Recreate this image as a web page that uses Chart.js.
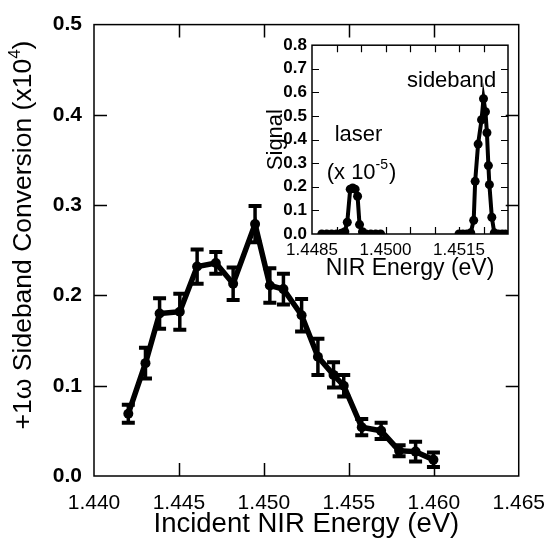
<!DOCTYPE html>
<html><head><meta charset="utf-8">
<script src="https://cdn.jsdelivr.net/npm/chart.js@4.4.1/dist/chart.umd.min.js"></script>
<style>
html,body{margin:0;padding:0;background:#fff;}
#wrap{position:relative;width:560px;height:541px;background:#fff;}
#main{position:absolute;left:0;top:0;}
#inset{position:absolute;left:262px;top:30px;}
</style></head>
<body><div id="wrap"><canvas id="main" width="560" height="541"></canvas><canvas id="inset" width="260" height="262"></canvas></div>
<script>
// ---- main chart data ----
const energy = [1.44202, 1.44303, 1.44386, 1.44505, 1.44607, 1.44717, 1.44819, 1.44948, 1.45035, 1.45115, 1.45222, 1.45318, 1.45410, 1.45470, 1.45576, 1.45690, 1.45796, 1.45893, 1.45998];
const conversion = [0.069, 0.125, 0.180, 0.182, 0.232, 0.236, 0.213, 0.279, 0.211, 0.207, 0.178, 0.132, 0.112, 0.100, 0.054, 0.050, 0.028, 0.027, 0.018];
const conversionErr = [0.010, 0.017, 0.017, 0.020, 0.019, 0.012, 0.018, 0.020, 0.019, 0.017, 0.018, 0.020, 0.014, 0.012, 0.009, 0.009, 0.006, 0.011, 0.008];
const mainXTicks = [1.440, 1.445, 1.450, 1.455, 1.460, 1.465];
const mainXTickLabels = ['1.440', '1.445', '1.450', '1.455', '1.460', '1.465'];
const mainYTicks = [0.0, 0.1, 0.2, 0.3, 0.4, 0.5];
const mainYTickLabels = ['0.0', '0.1', '0.2', '0.3', '0.4', '0.5'];

// ---- inset data ----
const laserEnergy = [1.44870, 1.44880, 1.44890, 1.44900, 1.44910, 1.44917, 1.44922, 1.44928, 1.44933, 1.44938, 1.44943, 1.44947, 1.44953, 1.44960, 1.44970, 1.44980, 1.44990];
const laserSignal = [0, 0, 0, 0, 0.003, 0.01, 0.05, 0.19, 0.195, 0.19, 0.16, 0.04, 0.01, 0, 0, 0, 0];
const sidebandEnergy = [1.45150, 1.45158, 1.45166, 1.45174, 1.45180, 1.45183, 1.45189, 1.45196, 1.45200, 1.45204, 1.45207, 1.45210, 1.45212, 1.45217, 1.45222, 1.45230, 1.45238, 1.45245];
const sidebandSignal = [0, 0, 0, 0.005, 0.058, 0.223, 0.381, 0.484, 0.573, 0.518, 0.429, 0.29, 0.209, 0.071, 0.005, 0, 0, 0];
const insetXTicks = [1.4485, 1.4490, 1.4495, 1.4500, 1.4505, 1.4510, 1.4515, 1.4520, 1.4525];
const insetXTickLabels = ['1.4485', '', '', '1.4500', '', '', '1.4515', '', ''];
const insetYTicks = [0, 0.1, 0.2, 0.3, 0.4, 0.5, 0.6, 0.7, 0.8];
const insetYTickLabels = ['0.0', '0.1', '0.2', '0.3', '0.4', '0.5', '0.6', '0.7', '0.8'];

const FONT = "'Liberation Sans', Arial, Helvetica, sans-serif";

const frameTicks = {
  id: 'frameTicks',
  afterDraw(chart, args, opts) {
    const {ctx, chartArea: a, scales: {x, y}} = chart;
    ctx.save();
    ctx.strokeStyle = '#000';
    ctx.lineWidth = opts.lw;
    const L = opts.len;
    ctx.beginPath();
    x.ticks.forEach(t => {
      const px = Math.round(x.getPixelForValue(t.value)) + 0.5;
      if (px <= a.left + 1 || px >= a.right - 1) return;
      ctx.moveTo(px, a.bottom); ctx.lineTo(px, a.bottom - L);
      ctx.moveTo(px, a.top); ctx.lineTo(px, a.top + L);
    });
    y.ticks.forEach(t => {
      const py = Math.round(y.getPixelForValue(t.value)) + 0.5;
      if (py <= a.top + 1 || py >= a.bottom - 1) return;
      ctx.moveTo(a.left, py); ctx.lineTo(a.left + L, py);
      ctx.moveTo(a.right, py); ctx.lineTo(a.right - L, py);
    });
    ctx.stroke();
    ctx.lineWidth = opts.frame;
    ctx.strokeRect(a.left, a.top, a.right - a.left, a.bottom - a.top);
    ctx.restore();
  }
};

const errorBars = {
  id: 'errorBars',
  afterDatasetsDraw(chart) {
    const {ctx, scales: {x, y}} = chart;
    ctx.save();
    ctx.strokeStyle = '#000';
    energy.forEach((e, i) => {
      const px = x.getPixelForValue(e);
      const top = y.getPixelForValue(conversion[i] + conversionErr[i]);
      const bot = y.getPixelForValue(conversion[i] - conversionErr[i]);
      ctx.lineWidth = 3.5;
      ctx.beginPath(); ctx.moveTo(px, top); ctx.lineTo(px, bot); ctx.stroke();
      ctx.lineWidth = 4;
      ctx.beginPath();
      ctx.moveTo(px - 6.5, top); ctx.lineTo(px + 6.5, top);
      ctx.moveTo(px - 6.5, bot); ctx.lineTo(px + 6.5, bot);
      ctx.stroke();
    });
    ctx.restore();
  }
};

// y-axis title with a real superscript, drawn rotated in the left scale box
const yTitle = {
  id: 'yTitle',
  afterDraw(chart) {
    const {ctx} = chart;
    const base = '+1ω Sideband Conversion (x10', sup = '4', end = ')';
    ctx.save();
    ctx.fillStyle = '#000';
    ctx.translate(31, 235);
    ctx.rotate(-Math.PI / 2);
    ctx.textBaseline = 'alphabetic';
    ctx.textAlign = 'left';
    const big = '26.5px ' + FONT, small = '17px ' + FONT;
    ctx.font = big; const w1 = ctx.measureText(base).width, w3 = ctx.measureText(end).width;
    ctx.font = small; const w2 = ctx.measureText(sup).width;
    let p = -(w1 + w2 + w3) / 2;
    ctx.font = big; ctx.fillText(base, p, 0); p += w1;
    ctx.font = small; ctx.fillText(sup, p, -11); p += w2;
    ctx.font = big; ctx.fillText(end, p, 0);
    ctx.restore();
  }
};

new Chart(document.getElementById('main'), {
  type: 'scatter',
  data: {
    datasets: [{
      data: energy.map((e, i) => ({x: e, y: conversion[i]})),
      showLine: true,
      borderColor: '#000',
      backgroundColor: '#000',
      borderWidth: 5.5,
      pointRadius: 5,
      pointBorderWidth: 0,
      tension: 0
    }]
  },
  options: {
    responsive: false,
    animation: false,
    devicePixelRatio: 1,
    layout: {padding: {top: 19, right: 33, left: 0, bottom: 0}},
    plugins: {legend: {display: false}, tooltip: {enabled: false}, frameTicks: {lw: 1.5, len: 13, frame: 1.5}},
    scales: {
      x: {
        type: 'linear', min: 1.440, max: 1.465,
        afterBuildTicks: s => { s.ticks = mainXTicks.map(v => ({value: v})); },
        afterFit: s => { s.height = 65; },
        grid: {display: false, drawTicks: false},
        border: {display: false},
        ticks: {autoSkip: false, maxRotation: 0, minRotation: 0, padding: 15, color: '#000',
          font: {family: FONT, size: 21},
          callback: (v, i) => mainXTickLabels[i]},
        title: {display: true, text: 'Incident NIR Energy (eV)', color: '#000',
          font: {family: FONT, size: 27.5}, padding: {top: 0, bottom: 0}}
      },
      y: {
        type: 'linear', min: 0, max: 0.5,
        afterBuildTicks: s => { s.ticks = mainYTicks.map(v => ({value: v})); },
        afterFit: s => { s.width = 94; },
        grid: {display: false, drawTicks: false},
        border: {display: false},
        ticks: {autoSkip: false, padding: 12, color: '#000',
          font: {family: FONT, size: 21, weight: 'bold'},
          callback: (v, i) => mainYTickLabels[i]},
        title: {display: false}
      }
    }
  },
  plugins: [frameTicks, errorBars, yTitle]
});

const insetNotes = {
  id: 'insetNotes',
  afterDraw(chart) {
    const {ctx, scales: {x, y}} = chart;
    ctx.save();
    ctx.fillStyle = '#000';
    ctx.textBaseline = 'alphabetic';
    ctx.font = '22px ' + FONT;
    ctx.textAlign = 'center';
    ctx.fillText('sideband', x.getPixelForValue(1.45135), y.getPixelForValue(0.623));
    ctx.fillText('laser', x.getPixelForValue(1.44945), y.getPixelForValue(0.396));
    ctx.textAlign = 'left';
    let px = x.getPixelForValue(1.44880);
    const py = y.getPixelForValue(0.231);
    ctx.fillText('(x 10', px, py);
    px += ctx.measureText('(x 10').width;
    ctx.font = '14px ' + FONT;
    ctx.fillText('-5', px, py - 10);
    px += ctx.measureText('-5').width + 1;
    ctx.font = '22px ' + FONT;
    ctx.fillText(')', px, py);
    ctx.restore();
  }
};

new Chart(document.getElementById('inset'), {
  type: 'scatter',
  data: {
    datasets: [
      {data: laserEnergy.map((e, i) => ({x: e, y: laserSignal[i]})), showLine: true,
       borderColor: '#000', backgroundColor: '#000', borderWidth: 4, pointRadius: 4.5, pointBorderWidth: 0},
      {data: sidebandEnergy.map((e, i) => ({x: e, y: sidebandSignal[i]})), showLine: true,
       borderColor: '#000', backgroundColor: '#000', borderWidth: 4, pointRadius: 4.5, pointBorderWidth: 0}
    ]
  },
  options: {
    responsive: false,
    animation: false,
    devicePixelRatio: 1,
    layout: {padding: {top: 10, right: 14, left: 0, bottom: 0}},
    plugins: {legend: {display: false}, tooltip: {enabled: false}, frameTicks: {lw: 1.2, len: 7, frame: 1.5}},
    scales: {
      x: {
        type: 'linear', min: 1.4485, max: 1.4525,
        afterBuildTicks: s => { s.ticks = insetXTicks.map(v => ({value: v})); },
        afterFit: s => { s.height = 58; },
        grid: {display: false, drawTicks: false},
        border: {display: false},
        ticks: {autoSkip: false, maxRotation: 0, minRotation: 0, padding: 6, color: '#000',
          font: {family: FONT, size: 17},
          callback: (v, i) => insetXTickLabels[i]},
        title: {display: true, text: 'NIR Energy (eV)', color: '#000',
          font: {family: FONT, size: 23}, padding: {top: 0, bottom: 10}}
      },
      y: {
        type: 'linear', min: 0, max: 0.8,
        afterBuildTicks: s => { s.ticks = insetYTicks.map(v => ({value: v})); },
        afterFit: s => { s.width = 50; },
        grid: {display: false, drawTicks: false},
        border: {display: false},
        ticks: {autoSkip: false, padding: 5, color: '#000',
          font: {family: FONT, size: 17, weight: 'bold'},
          callback: (v, i) => insetYTickLabels[i]},
        title: {display: true, text: 'Signal', color: '#000',
          font: {family: FONT, size: 22}, padding: {top: 1, bottom: 0}}
      }
    }
  },
  plugins: [frameTicks, insetNotes]
});
</script>
</body></html>
